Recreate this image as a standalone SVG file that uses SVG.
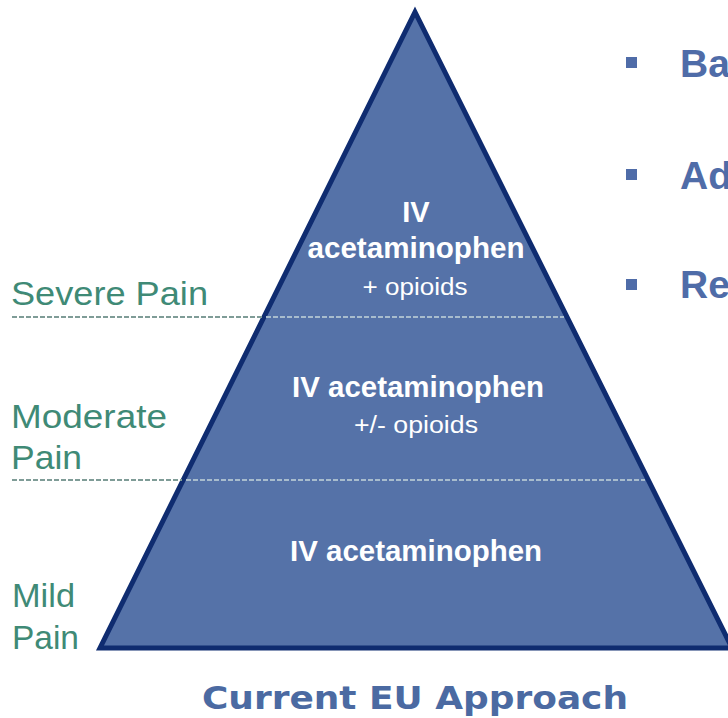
<svg xmlns="http://www.w3.org/2000/svg" width="728" height="718" viewBox="0 0 728 718">
<style>
.lbl{font-family:"Liberation Sans",Arial,sans-serif;fill:#3f8a76;font-size:34px}
.w{font-family:"Liberation Sans",Arial,sans-serif;fill:#ffffff;text-anchor:middle}
.b{font-weight:bold;font-size:29px}
.r{font-size:23px}
.bul{font-family:"Liberation Sans",Arial,sans-serif;font-weight:bold;font-size:39px;fill:#4f6ca8}
.dash-out{stroke:#7f9c97;stroke-width:2;stroke-dasharray:5 2;fill:none}
.dash-in{stroke:#a8bccd;stroke-width:2;stroke-dasharray:5 2;fill:none}
</style>
<rect width="728" height="718" fill="#ffffff"/>
<g id="pyramid">
<polygon points="415,12 100,648 732,648" fill="#5572a8" stroke="#0f2c70" stroke-width="5" stroke-linejoin="miter"/>
</g>
<g id="connectors">
<line class="dash-out" x1="12" y1="317" x2="262" y2="317"/>
<line class="dash-in" x1="266" y1="317" x2="564" y2="317"/>
<line class="dash-out" x1="12" y1="480" x2="182" y2="480"/>
<line class="dash-in" x1="186" y1="480" x2="645" y2="480"/>
</g>
<g id="tier-severe">
<text class="w b" x="416" y="222">IV</text>
<text class="w b" x="416" y="258" textLength="217" lengthAdjust="spacingAndGlyphs">acetaminophen</text>
<text class="w r" x="415" y="295" textLength="105" lengthAdjust="spacingAndGlyphs">+ opioids</text>
</g>
<g id="tier-moderate">
<text class="w b" x="418" y="397" textLength="252" lengthAdjust="spacingAndGlyphs">IV acetaminophen</text>
<text class="w r" x="416" y="433" textLength="124" lengthAdjust="spacingAndGlyphs">+/- opioids</text>
</g>
<g id="tier-mild">
<text class="w b" x="416" y="561" textLength="252" lengthAdjust="spacingAndGlyphs">IV acetaminophen</text>
</g>
<g id="label-severe">
<text class="lbl" x="11" y="305" textLength="197" lengthAdjust="spacingAndGlyphs">Severe Pain</text>
</g>
<g id="label-moderate">
<text class="lbl" x="11" y="428" textLength="156" lengthAdjust="spacingAndGlyphs">Moderate</text>
<text class="lbl" x="11" y="469" textLength="71" lengthAdjust="spacingAndGlyphs">Pain</text>
</g>
<g id="label-mild">
<text class="lbl" x="12" y="607" textLength="63" lengthAdjust="spacingAndGlyphs">Mild</text>
<text class="lbl" x="12" y="649" textLength="67" lengthAdjust="spacingAndGlyphs">Pain</text>
</g>
<g id="title">
<text x="415" y="709" text-anchor="middle" font-family="'DejaVu Sans',Verdana,sans-serif" font-weight="bold" font-size="32" fill="#4b6aa2" textLength="426" lengthAdjust="spacingAndGlyphs">Current EU Approach</text>
</g>
<g id="bullets">
<rect x="626" y="57" width="11" height="11" fill="#4f6ca8"/>
<text class="bul" x="680" y="77">Ba</text>
<rect x="626" y="169" width="11" height="11" fill="#4f6ca8"/>
<text class="bul" x="680" y="189">Ad</text>
<rect x="626" y="279" width="11" height="11" fill="#4f6ca8"/>
<text class="bul" x="680" y="298">Re</text>
</g>
</svg>
